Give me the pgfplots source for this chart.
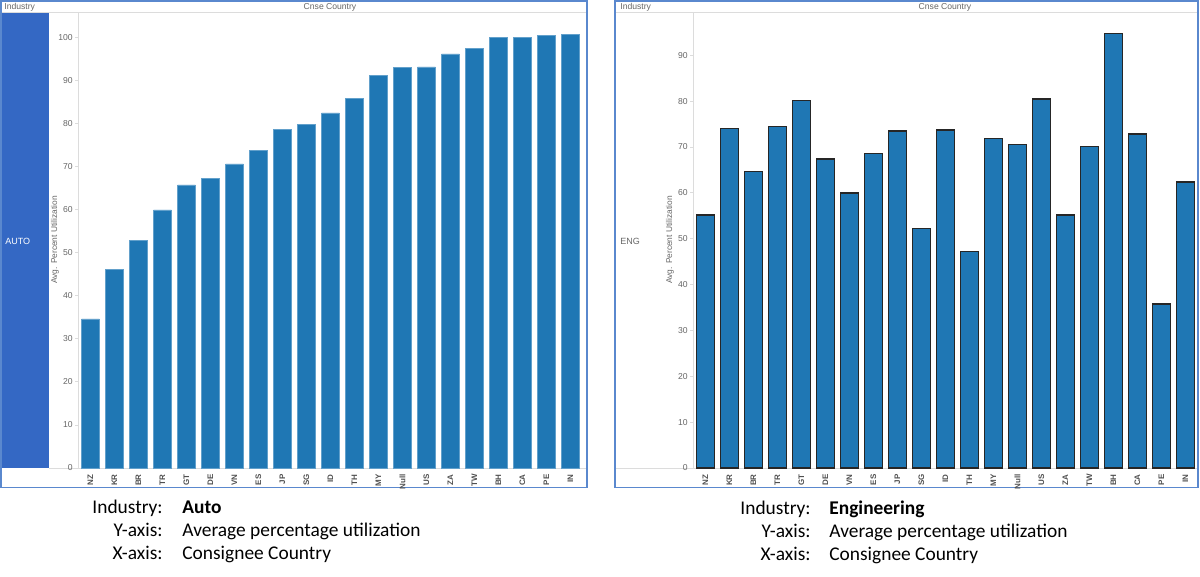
\documentclass[border=0pt]{standalone}
\usepackage{pgfplots}
\pgfplotsset{compat=1.18}
\usepackage{fontspec}
\setmainfont{Liberation Sans}
\newfontfamily\calib{Carlito}
\definecolor{barblue}{HTML}{1F77B4}
\definecolor{selblue}{HTML}{3468C4}
\definecolor{frameblue}{HTML}{5A88CE}
\definecolor{lgray}{HTML}{DCDCDC}
\definecolor{tgray}{HTML}{666666}
\definecolor{xgray}{HTML}{505050}

\pgfplotsset{
  tabl/.style={
    scale only axis,
    anchor=south west,
    ymin=0, xmin=-0.52,
    axis x line*=bottom, axis y line*=left,
    axis line style={lgray, line width=0.5pt},
    xtick=data,
    xticklabels={NZ,KR,BR,TR,GT,DE,VN,ES,JP,SG,ID,TH,MY,Null,US,ZA,TW,BH,CA,PE,IN},
    x tick style={draw=none},
    major tick length=1.5pt,
    tick align=outside,
    y tick style={lgray, line width=0.4pt},
    /pgf/number format/assume math mode=true,
    yticklabel style={font=\fontsize{4.3}{5}\selectfont, text=tgray, inner sep=1pt},
    xticklabel style={font=\fontsize{4}{5}\selectfont\bfseries, text=xgray, rotate=90, anchor=east, inner sep=1.5pt},
    clip=false,
  }
}

\pgfplotstableread{
x y
0 34.6
1 46.0
2 52.9
3 59.9
4 65.7
5 67.3
6 70.6
7 73.8
8 78.5
9 79.7
10 82.4
11 85.7
12 91.2
13 93.0
14 93.1
15 96.1
16 97.4
17 100.0
18 100.0
19 100.4
20 100.6
}\autodata

\pgfplotstableread{
x y
0 55.2
1 74.0
2 64.6
3 74.5
4 80.1
5 67.4
6 60.0
7 68.6
8 73.5
9 52.2
10 73.7
11 47.2
12 71.8
13 70.5
14 80.4
15 55.2
16 70.1
17 94.7
18 72.8
19 35.8
20 62.3
}\engdata

\begin{document}
\begin{tikzpicture}
\begin{scope}[x=0.5pt,y=-0.5pt]
  \path (0,0) rectangle (1200,577);
  % left panel
  \fill[selblue] (1,13.5) rectangle (49,468);
  \draw[lgray, line width=0.5pt] (1,13) -- (586,13);
  \draw[lgray, line width=0.5pt] (49,468) -- (586,468);
  \draw[frameblue, line width=0.8pt] (0.8,0.8) rectangle (587,487.5);
  \node[anchor=west, inner sep=0pt, font=\fontsize{4.3}{5}\selectfont, text=tgray] at (4,7.5) {Industry};
  \node[inner sep=0pt, font=\fontsize{4.3}{5}\selectfont, text=tgray] at (330,7.5) {Cnse Country};
  \node[anchor=west, inner sep=0pt, font=\fontsize{4.5}{5}\selectfont, text=white] at (5,241) {AUTO};
  \node[rotate=90, inner sep=0pt, font=\fontsize{4.2}{5}\selectfont, text=tgray] at (55,240) {Avg. Percent Utilization};
  % right panel
  \draw[lgray, line width=0.5pt] (616,13) -- (1197,13);
  \draw[lgray, line width=0.5pt] (616,468) -- (1197,468);
  \draw[frameblue, line width=0.8pt] (615,0.8) rectangle (1198,487.5);
  \node[anchor=west, inner sep=0pt, font=\fontsize{4.3}{5}\selectfont, text=tgray] at (620,7.5) {Industry};
  \node[inner sep=0pt, font=\fontsize{4.3}{5}\selectfont, text=tgray] at (945,7.5) {Cnse Country};
  \node[anchor=west, inner sep=0pt, font=\fontsize{4.5}{5}\selectfont, text=tgray] at (620,241) {ENG};
  \node[rotate=90, inner sep=0pt, font=\fontsize{4.2}{5}\selectfont, text=tgray] at (670,240) {Avg. Percent Utilization};
  % bottom text
  \begin{scope}[every node/.style={inner sep=0pt, font=\calib\fontsize{9.7}{11}\selectfont}]
    \node[anchor=mid east] at (163,508) {Industry:};
    \node[anchor=mid west] at (182,508) {\bfseries Auto};
    \node[anchor=mid east] at (163,531) {Y-axis:};
    \node[anchor=mid west] at (182,531) {Average percentage utilization};
    \node[anchor=mid east] at (163,554) {X-axis:};
    \node[anchor=mid west] at (182,554) {Consignee Country};
    \node[anchor=mid east] at (811,509) {Industry:};
    \node[anchor=mid west] at (829,509) {\bfseries Engineering};
    \node[anchor=mid east] at (811,532) {Y-axis:};
    \node[anchor=mid west] at (829,532) {Average percentage utilization};
    \node[anchor=mid east] at (811,555) {X-axis:};
    \node[anchor=mid west] at (829,555) {Consignee Country};
  \end{scope}
\end{scope}

\begin{axis}[tabl,
  at={(39pt,-234pt)},
  width=252pt, height=227.5pt,
  xmax=20.48, ymax=105.6,
  ytick={0,10,...,100},
]
\addplot[ybar, bar width=8.8pt, fill=barblue, draw=barblue!70!white, line width=0.3pt] table[x=x,y=y]{\autodata};
\end{axis}

\begin{axis}[tabl,
  at={(346.5pt,-234pt)},
  width=251.5pt, height=227.5pt,
  xmax=20.44, ymax=99.2,
  ytick={0,10,...,90},
]
\addplot[ybar, bar width=9pt, fill=barblue, draw=black!85, line width=0.75pt] table[x=x,y=y]{\engdata};
\end{axis}
\end{tikzpicture}
\end{document}
